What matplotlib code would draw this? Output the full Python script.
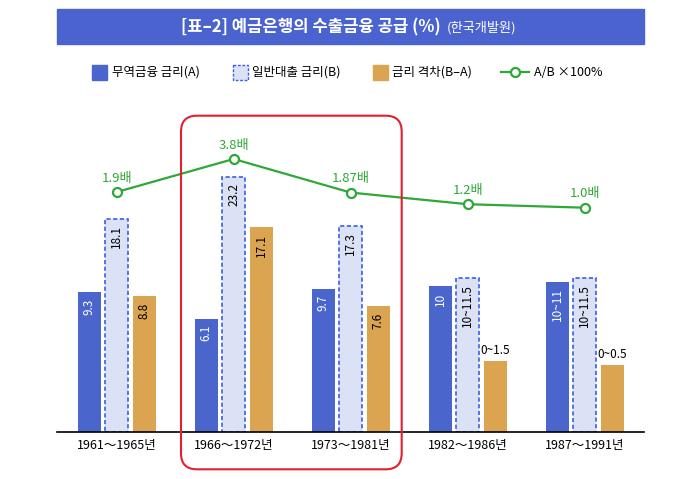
import matplotlib
matplotlib.use('Agg')
import numpy as np
import matplotlib.pyplot as plt
from matplotlib.patches import Rectangle, FancyBboxPatch
from matplotlib.lines import Line2D
from matplotlib.transforms import Affine2D

plt.rcParams['font.family'] = ['Noto Sans CJK KR', 'DejaVu Sans']

# ---------------- data ----------------
periods = ['1961～1965년', '1966～1972년', '1973～1981년', '1982～1986년', '1987～1991년']
trade_rate = [9.3, 6.1, 9.7, 10.0, 10.5]
trade_labels = ['9.3', '6.1', '9.7', '10', '10~11']
general_rate = [18.1, 23.2, 17.3, 11.0, 11.0]
general_labels = ['18.1', '23.2', '17.3', '10~11.5', '10~11.5']
spread = [8.8, 17.1, 7.6, 1.0, 0.5]
spread_labels = ['8.8', '17.1', '7.6', '0~1.5', '0~0.5']
ratio = [1.9, 3.8, 1.87, 1.2, 1.0]
ratio_labels = ['1.9배', '3.8배', '1.87배', '1.2배', '1.0배']
legend_labels = ['무역금융 금리(A)', '일반대출 금리(B)', '금리 격차(B–A)', 'A/B ×100%']
title_main = '[표–2] 예금은행의 수출금융 공급 (%)'
title_sub = '(한국개발원)'

# ---------------- style ----------------
TITLE_BLUE = '#4B63CF'
BLUE = '#4A66CC'
LIGHT = '#DCE2F5'
DASH = '#3B5EE6'
ORANGE = '#DBA450'
GREEN = '#2EA836'
RED = '#E3202D'

W, H = 700, 479
fig = plt.figure(figsize=(W / 100, H / 100), dpi=100)
px = Affine2D().scale(1 / W, -1 / H).translate(0, 1) + fig.transFigure

base_px, top_px = 431.7, 100
ax = fig.add_axes([57 / W, (H - base_px) / H, (644 - 57) / W, (base_px - top_px) / H])

Y0 = -7.52
scale = 8.3
ax.set_ylim(Y0, Y0 + (base_px - top_px) / scale)
ax.set_xlim(-0.51, 4.507)

x = np.arange(len(periods))
w = 0.197
off = 0.235

def bars(xs, vals, **kw):
    return ax.bar(xs, np.array(vals) - Y0, bottom=Y0, width=w, **kw)

bars(x - off, trade_rate, color=BLUE, zorder=2)
bars(x, general_rate, facecolor=LIGHT, edgecolor=DASH, linewidth=1.2,
     linestyle=(0, (2.5, 1.5)), zorder=2)
bars(x + off, spread, color=ORANGE, zorder=2)

def label(xs, vals, labels, color):
    for xi, v, t in zip(xs, vals, labels):
        if v < 3:
            ax.annotate(t, (xi, v), xytext=(0, 3), textcoords='offset points',
                        ha='center', va='bottom', fontsize=8.5, color='black')
        else:
            ax.annotate(t, (xi, v), xytext=(0, -4.5), textcoords='offset points',
                        ha='center', va='top', rotation=90, fontsize=8.5, color=color)

label(x - off, trade_rate, trade_labels, 'white')
label(x, general_rate, general_labels, 'black')
label(x + off, spread, spread_labels, 'black')

ax.set_xticks(x, periods)
ax.tick_params(axis='x', length=0, pad=5.5, labelsize=9)
ax.set_yticks([])
for s in ['left', 'right', 'top']:
    ax.spines[s].set_visible(False)
ax.spines['bottom'].set_linewidth(1.2)
ax.spines['bottom'].set_color('black')

# ratio line on twin axis
ax2 = ax.twinx()
r_scale = 17.4
r0 = 1.0 - (base_px - 207.7) / r_scale
ax2.set_ylim(r0, r0 + (base_px - top_px) / r_scale)
ax2.plot(x, ratio, color=GREEN, lw=1.6, marker='o', ms=6.5, mfc='white',
         mec=GREEN, mew=1.6, zorder=3)
for xi, v, t in zip(x, ratio, ratio_labels):
    ax2.annotate(t, (xi, v), xytext=(0, 7.5), textcoords='offset points',
                 ha='center', va='baseline', fontsize=9.5, color=GREEN)
ax2.axis('off')

# title bar
fig.add_artist(Rectangle((57, 9.3), 587, 35, transform=px, color=TITLE_BLUE))
fig.text(441, 27, title_main, transform=px, ha='right', va='center',
         fontsize=12, weight='bold', color='white')
fig.text(447, 27.5, title_sub, transform=px, ha='left', va='center',
         fontsize=9.5, color='white')

# legend (manual)
ly = 72
fig.add_artist(Rectangle((92.3, 65), 15, 14.5, transform=px, color=BLUE))
fig.text(111.7, ly, legend_labels[0], transform=px, ha='left', va='center', fontsize=9)
fig.add_artist(Rectangle((233.3, 65), 14.5, 14.5, transform=px, facecolor=LIGHT,
                         edgecolor=DASH, linewidth=1.0, linestyle=(0, (2, 1.2))))
fig.text(252, ly, legend_labels[1], transform=px, ha='left', va='center', fontsize=9)
fig.add_artist(Rectangle((373.3, 65), 14.5, 14.5, transform=px, color=ORANGE))
fig.text(391.7, ly, legend_labels[2], transform=px, ha='left', va='center', fontsize=9)
fig.add_artist(Line2D([501, 529], [ly, ly], transform=px, color=GREEN, lw=1.6))
fig.add_artist(Line2D([515], [ly], transform=px, color=GREEN, marker='o', ms=6.5,
                      mfc='white', mec=GREEN, mew=1.6))
fig.text(534, ly, legend_labels[3], transform=px, ha='left', va='center', fontsize=9)

# highlight box
fig.add_artist(FancyBboxPatch((181, 115.7), 220.7, 353.6,
                              boxstyle='round,pad=0,rounding_size=16',
                              transform=px, fill=False, edgecolor=RED, linewidth=1.5))

fig.savefig('out.png', dpi=100)
